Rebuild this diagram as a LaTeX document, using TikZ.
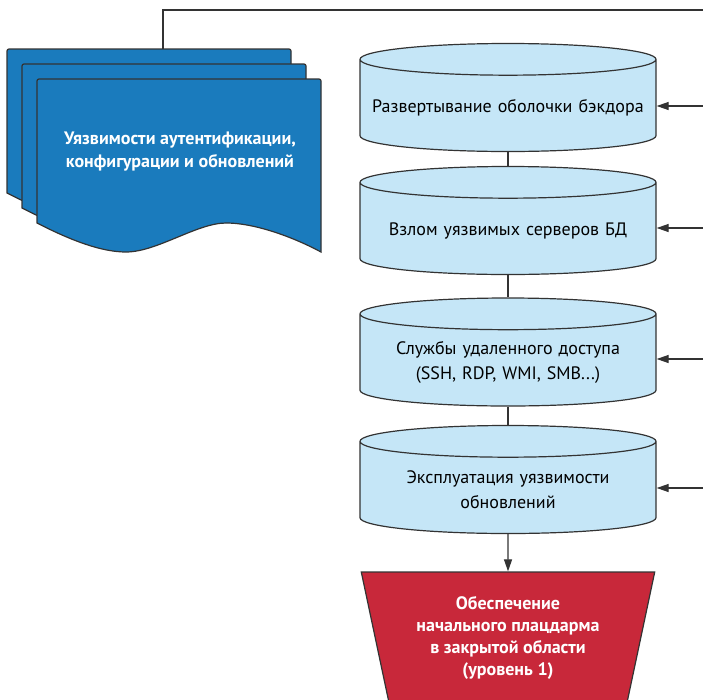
\documentclass[tikz,border=0pt]{standalone}
\usepackage{fontspec}
\setmainfont{PT Sans}
\usetikzlibrary{arrows.meta,shapes.geometric}
\usepackage{xcolor}
\definecolor{docblue}{HTML}{1A7BBD}
\definecolor{dbfill}{HTML}{C5E6F7}
\definecolor{goalred}{HTML}{C8283A}
\definecolor{wire}{HTML}{333333}

\begin{document}
\begin{tikzpicture}[x=1pt,y=-1pt,line width=1.2pt,draw=wire,
		>={Triangle[length=12pt,width=8pt]},
		docpage/.style={fill=docblue,draw=wire},
		dbstep/.style={cylinder,shape border rotate=90,aspect=0.11,draw=wire,fill=dbfill,
			anchor=shape center,text width=276pt,inner sep=6pt,align=center,
			minimum width=296pt,minimum height=108pt,font=\fontsize{18}{25}\selectfont},
		goal/.style={trapezium,shape border rotate=180,trapezium left angle=76,
			trapezium right angle=76,trapezium stretches=true,minimum width=294pt,
			minimum height=132pt,fill=goalred,draw=wire,text=white,align=center,
			font=\fontsize{18}{22}\bfseries}]
				\useasboundingbox (0,0) rectangle (703,699);
				
				\foreach \d in {0,15,30}
					\draw[docpage,shift={(7+\d,49+\d)}] (0,144) [rounded corners=2pt] -- (0,0) -- (284,0) [sharp corners] -- (284,173)
						.. controls (260,160) and (220,144) .. (189,144)
						.. controls (160,144) and (120,173) .. (89,173)
						.. controls (65,173) and (35,162) .. cycle;
				\node(doc) at (180,152)[text=white,align=center,font=\fontsize{18}{23}\bfseries]
					{Уязвимости аутентификации,\\конфигурации и обновлений};
				
				\node(c1) at (508,97.5)[dbstep]{Развертывание оболочки бэкдора};
				\node(c2) at (508,220.5)[dbstep]{Взлом уязвимых серверов БД};
				\node(c3) at (508,352)[dbstep]{Службы удаленного доступа\\(SSH, RDP, WMI, SMB...)};
				\node(c4) at (508,479.5)[dbstep]{Эксплуатация уязвимости\\обновлений};
				\node(goal) at (508,638)[goal]{Обеспечение\\начального плацдарма\\в закрытой области\\(уровень 1)};
				
				\coordinate(feed) at (703,10);
				\coordinate(doctop) at (163,49);
				\coordinate(in1) at (703,106);
				\coordinate(in2) at (703,228);
				\coordinate(in3) at (703,359);
				\coordinate(in4) at (703,488);
				
				\draw (feed) -| (doctop);
				\draw (c1) to (c2);
				\draw (c2) to (c3);
				\draw (c3) to (c4);
				\draw[->] (c4) to (goal);
				\draw[->] (in1) to (in1 -| c1.east);
				\draw[->] (in2) to (in2 -| c2.east);
				\draw[->] (in3) to (in3 -| c3.east);
				\draw[->] (in4) to (in4 -| c4.east);
			\end{tikzpicture}
\end{document}
